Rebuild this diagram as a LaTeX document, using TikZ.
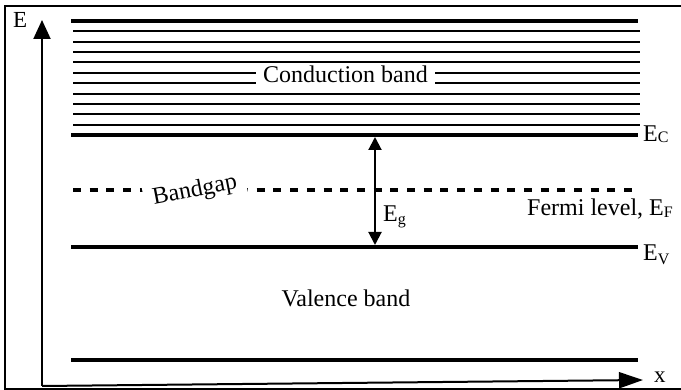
\documentclass[tikz,border=0pt]{standalone}
\usepackage{fontspec}
\setmainfont{Liberation Serif}
\usetikzlibrary{arrows.meta}
\newcommand\sbs[2][0pt]{\raisebox{-#1}{\fontsize{16}{16}\selectfont #2}}
\begin{document}
\begin{tikzpicture}[x=1pt,y=-1pt,
  thickline/.style={line width=4pt},
  thinline/.style={line width=2pt},
  fermiline/.style={line width=4pt, dash pattern=on 8pt off 8.7pt},
  axisline/.style={line width=2pt},
  lbl/.style={inner sep=0pt, font=\fontsize{24}{28}\selectfont},
  gaparrow/.style={line width=2pt, {Triangle[length=13pt,width=13pt]}-{Triangle[length=13pt,width=13pt]}},
]
\useasboundingbox (0,0) rectangle (681,390);
% frame
\draw[line width=2pt] (683,6) -- (5,6) -- (5,389) -- (683,389);
% axes
\coordinate (origin) at (42,386);
\coordinate (ytip) at (42,20);
\coordinate (xtip) at (643,380);
\draw[axisline, -{Triangle[length=19pt,width=17pt]}] (origin) -- (ytip);
\draw[axisline, -{Triangle[length=24pt,width=16pt]}] (origin) -- (xtip);
\node[lbl, anchor=base west, font=\fontsize{23}{26}\selectfont] (elab) at (13,28) {E};
\node[lbl, anchor=base west, font=\fontsize{23}{26}\selectfont] (xlab) at (654,383) {x};
% conduction band lines
\draw[thickline] (71,21) -- (638,21);
\foreach \k in {1,...,10} {
  \draw[thinline] (73,{21+\k*10.36}) -- (640,{21+\k*10.36});
}
\draw[thickline] (71,135) -- (638,135);
\node[lbl, anchor=base, fill=white, inner xsep=7pt, inner ysep=2pt] (cb) at (345.5,83) {Conduction band};
% fermi level
\draw[fermiline] (73,190) -- (640,190);
\node[lbl, fill=white, inner xsep=9pt, inner ysep=2pt, rotate=11] (bg) at (195,191) {Bandgap};
% valence band lines
\draw[thickline] (71,247) -- (638,247);
\draw[thickline] (71,360) -- (638,360);
\node[lbl, anchor=base] (vb) at (346,307) {Valence band};
% gap arrow
\coordinate (gtop) at (375,137);
\coordinate (gbot) at (375,245);
\draw[gaparrow] (gtop) -- (gbot);
\node[lbl, anchor=base west] (eg) at (383,222) {E\sbs[3pt]{g}};
% labels
\node[lbl, anchor=base west] (ec) at (643,142) {E\sbs[1pt]{C}};
\node[lbl, anchor=base west] (ef) at (527,216) {Fermi level, E\sbs[2pt]{F}};
\node[lbl, anchor=base west] (ev) at (643,261) {E\sbs[4pt]{V}};
\end{tikzpicture}
\end{document}
